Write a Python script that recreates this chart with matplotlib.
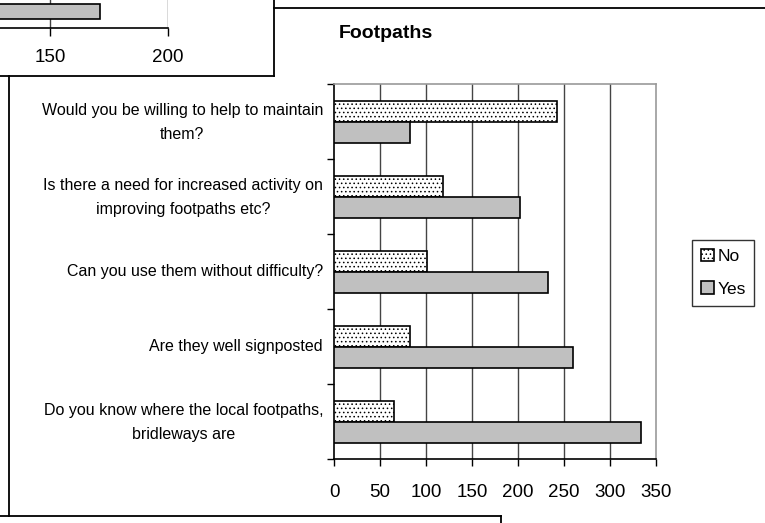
import matplotlib
matplotlib.use("Agg")
import matplotlib.pyplot as plt
import matplotlib.transforms as mtransforms
from matplotlib.lines import Line2D
import numpy as np

plt.rcParams['font.family'] = ['Liberation Sans', 'DejaVu Sans']
plt.rcParams['hatch.linewidth'] = 0.6
plt.rcParams['hatch.color'] = '#333333'

categories = [
    "Do you know where the local footpaths,\nbridleways are",
    "Are they well signposted",
    "Can you use them without difficulty?",
    "Is there a need for increased activity on\nimproving footpaths etc?",
    "Would you be willing to help to maintain\nthem?",
]
no_values = [65, 83, 101, 119, 242]
yes_values = [334, 260, 233, 202, 83]
x_ticks = [0, 50, 100, 150, 200, 250, 300, 350]

# partial neighbouring chart (top-left)
partial_values = [171]
partial_ticks = [150, 200]

W, H = 765, 523
fig = plt.figure(figsize=(W / 100, H / 100), dpi=100)
fig.patch.set_facecolor('white')

def fx(px):
    return px / W

def fy(py):
    return 1 - py / H

# ---------- main chart ----------
ax = fig.add_axes([fx(334), fy(459), fx(656) - fx(334), fy(84) - fy(459)])
y = np.arange(len(categories))
h = 0.28
ax.barh(y + 0.13, no_values, height=h, color='white', edgecolor='black',
        linewidth=1.2, hatch='....', label='No', zorder=3)
ax.barh(y - 0.15, yes_values, height=h, color='#C0C0C0', edgecolor='black',
        linewidth=1.2, label='Yes', zorder=3)

ax.set_xlim(0, 350)
ax.set_ylim(-0.5, len(categories) - 0.5)
ax.set_xticks(x_ticks)
ax.set_xticklabels([str(t) for t in x_ticks], fontsize=13.5)
ax.tick_params(axis='x', direction='out', length=5, width=1, pad=13, color='black')
for t in x_ticks[1:-1]:
    ax.axvline(t, color='#444444', linewidth=1, zorder=1)

ax.set_yticks(np.arange(-0.5, len(categories), 1.0))
ax.set_yticklabels([])
ax.tick_params(axis='y', which='major', direction='out', length=5, width=1)

for yi, lab in zip(y, categories):
    dy = -1 if '\n' in lab else 0
    tr = mtransforms.offset_copy(ax.get_yaxis_transform(), fig=fig,
                                 x=-11, y=dy, units='dots')
    ax.text(0, yi, lab, transform=tr, ha='right', va='center',
            fontsize=11.5, linespacing=1.8, multialignment='center')

for s in ['left', 'bottom']:
    ax.spines[s].set_color('black')
    ax.spines[s].set_linewidth(1.2)
for s in ['top', 'right']:
    ax.spines[s].set_color('#9a9a9a')
    ax.spines[s].set_linewidth(1.2)

handles, labels = ax.get_legend_handles_labels()
leg = fig.legend(handles, labels, loc='upper left',
                 bbox_to_anchor=(fx(692), fy(240)), fontsize=12.5,
                 frameon=True, fancybox=False, edgecolor='black',
                 handlelength=0.75, handleheight=0.75, handletextpad=0.2,
                 borderpad=0.5, labelspacing=1.0, borderaxespad=0)
leg.get_frame().set_linewidth(1)

fig.text(fx(386), fy(34), "Footpaths", ha='center', va='center',
         fontsize=14, fontweight='bold')

# ---------- chart frames ----------
lw = 1.3
fig.add_artist(Line2D([fx(274), fx(765)], [fy(8), fy(8)], color='black', lw=lw))
fig.add_artist(Line2D([fx(9), fx(9)], [fy(76), fy(516)], color='black', lw=lw))

# ---------- partial top-left chart ----------
pax = fig.add_axes([0, fy(28), fx(168), fy(0) - fy(28)])
pax.set_xlim(128.8, 200)
pax.set_ylim(0, 1)
pax.barh([0.58], partial_values, height=0.55, color='#C0C0C0',
         edgecolor='black', linewidth=1.2, zorder=3)
pax.set_xticks(partial_ticks)
pax.set_xticklabels([str(t) for t in partial_ticks], fontsize=13.5)
pax.tick_params(axis='x', direction='out', length=6, width=1, pad=9)
for t in partial_ticks:
    pax.axvline(t, color='#444444', linewidth=1, zorder=1)
pax.set_yticks([])
for s in ['left', 'top', 'right']:
    pax.spines[s].set_visible(False)
pax.spines['bottom'].set_linewidth(1.2)
pax.patch.set_alpha(0)
fig.add_artist(Line2D([fx(274), fx(274)], [fy(0), fy(76)], color='black', lw=lw))
fig.add_artist(Line2D([0, fx(274)], [fy(76), fy(76)], color='black', lw=lw))

# ---------- partial bottom chart frame ----------
fig.add_artist(Line2D([0, fx(501)], [fy(516), fy(516)], color='black', lw=lw))
fig.add_artist(Line2D([fx(501), fx(501)], [fy(516), fy(523)], color='black', lw=lw))

fig.savefig("out.png", dpi=100, facecolor='white')
